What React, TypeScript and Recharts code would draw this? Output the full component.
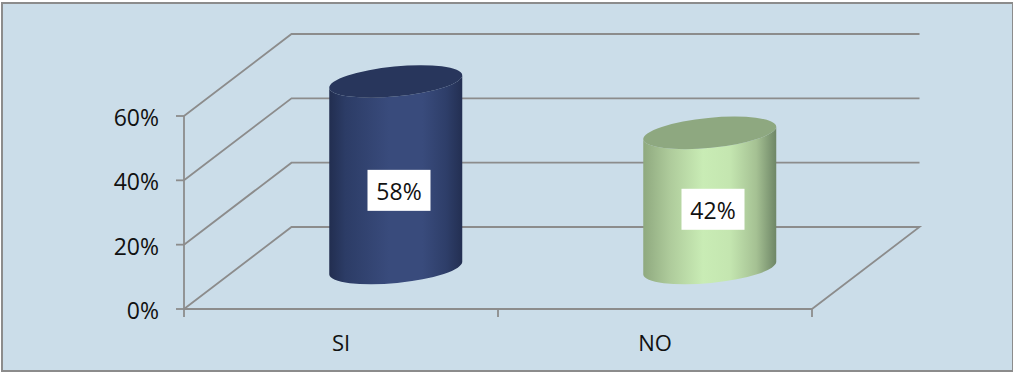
import React from "react";
import { BarChart, Bar, XAxis, YAxis, CartesianGrid, LabelList } from "recharts";

const categories = ["SI", "NO"];
const values = [58, 42];
const yTicks = [0, 20, 40, 60];
const topColors = ["#28365c", "#8ea880"];
const gradients = [
  [["0%", "#222e50"], ["12%", "#2c3c66"], ["45%", "#394b7c"], ["70%", "#394b7c"], ["88%", "#2e3e69"], ["100%", "#232f52"]],
  [["0%", "#8fa97f"], ["20%", "#aecb9b"], ["45%", "#c9ecb5"], ["65%", "#c4e6b0"], ["85%", "#a5c193"], ["100%", "#6e8666"]],
];

const data = categories.map((name, i) => ({ name, value: values[i] }));

const WIDTH = 1014;
const HEIGHT = 374;
const LEFT = 184;
const RIGHT = 812;
const TOP = 116;
const BOTTOM = 309;
const DX = 107.5;
const DY = 82;
const GREY = "#8c8c8c";
const LINE_W = 1.8;
const FONT = "'Open Sans', sans-serif";
const BAND = (RIGHT - LEFT) / categories.length;

function GridLine(props: any) {
  const { x1, y1, x2 } = props;
  const isFloor = Math.abs(y1 - BOTTOM) < 2;
  const pts = `${x1},${y1} ${x1 + DX},${y1 - DY} ${x2 + DX},${y1 - DY}${isFloor ? ` ${x2},${y1}` : ""}`;
  return <polyline points={pts} fill="none" stroke={GREY} strokeWidth={LINE_W} />;
}

function Cylinder(props: any) {
  const { x, y, width, height, index } = props;
  const cx = x + width / 2 + DX / 2 + 0.5;
  const left = cx - width / 2;
  const right = cx + width / 2;
  const topY = y - DY / 2;
  const botY = y + height - DY / 2;
  const tilt = 6.5;
  const rx = Math.hypot(width / 2, tilt);
  const ry = 15;
  const rot = -(Math.atan2(tilt, width / 2) * 180) / Math.PI;
  const id = `cyl-${index}`;
  const body = `M${left},${topY + tilt} L${left},${botY + tilt} A${rx},${ry} ${rot} 0 0 ${right},${botY - tilt} L${right},${topY - tilt} A${rx},${ry} ${rot} 0 1 ${left},${topY + tilt} Z`;
  return (
    <g>
      <defs>
        <linearGradient id={id} x1="0" x2="1" y1="0" y2="0">
          {gradients[index].map(([offset, color]) => (
            <stop key={offset} offset={offset} stopColor={color} />
          ))}
        </linearGradient>
      </defs>
      <path d={body} fill={`url(#${id})`} />
      <ellipse cx={cx} cy={topY} rx={rx} ry={ry} fill={topColors[index]} transform={`rotate(${rot} ${cx} ${topY})`} />
    </g>
  );
}

function BoxLabel(props: any) {
  const { x, y, width, height, value } = props;
  const cx = x + width / 2 + 57.5;
  const cy = y + height - 50 - 0.368 * height;
  return (
    <g>
      <rect x={cx - 31.5} y={cy - 20.5} width={63} height={41} fill="#ffffff" />
      <text x={cx} y={cy + 10} textAnchor="middle" fontFamily={FONT} fontSize={23} fill="#111111">{`${value}%`}</text>
    </g>
  );
}

function CategoryTick(props: any) {
  const { x, y, payload, index } = props;
  const edge = x - BAND / 2;
  return (
    <g>
      <line x1={edge} x2={edge} y1={BOTTOM} y2={BOTTOM + 8} stroke={GREY} strokeWidth={LINE_W} />
      {index === categories.length - 1 && (
        <line x1={edge + BAND} x2={edge + BAND} y1={BOTTOM} y2={BOTTOM + 8} stroke={GREY} strokeWidth={LINE_W} />
      )}
      <text x={x} y={y + 34} textAnchor="middle" fontFamily={FONT} fontSize={22} fill="#111111">{payload.value}</text>
    </g>
  );
}

function ValueTick(props: any) {
  const { x, y, payload } = props;
  return (
    <text x={x} y={y + 10} textAnchor="end" fontFamily={FONT} fontSize={23} fill="#111111">{`${payload.value}%`}</text>
  );
}

export default function App() {
  return (
    <div
      style={{
        position: "absolute",
        left: 0,
        top: 0,
        width: WIDTH,
        height: HEIGHT,
        background: "#ffffff",
      }}
    >
      <div
        style={{
          position: "absolute",
          left: 1,
          top: 2,
          width: 1012,
          height: 370,
          boxSizing: "border-box",
          background: "#cbdde9",
          border: "2px solid #8c8c8c",
          borderRightWidth: 1,
        }}
      />
      <div style={{ position: "absolute", left: 0, top: 0 }}>
        <BarChart
          width={WIDTH}
          height={HEIGHT}
          data={data}
          margin={{ top: TOP, right: WIDTH - RIGHT, bottom: 0, left: 0 }}
          barSize={133}
        >
          <CartesianGrid vertical={false} horizontal={(p: any) => <GridLine key={p.key ?? p.index} {...p} />} />
          <XAxis
            dataKey="name"
            height={HEIGHT - BOTTOM}
            tickLine={false}
            axisLine={{ stroke: GREY, strokeWidth: LINE_W }}
            tick={<CategoryTick />}
            interval={0}
          />
          <YAxis
            width={LEFT}
            domain={[0, 60]}
            ticks={yTicks}
            tickSize={8}
            tickMargin={17}
            tickLine={{ stroke: GREY, strokeWidth: LINE_W }}
            axisLine={{ stroke: GREY, strokeWidth: LINE_W }}
            tick={<ValueTick />}
          />
          <Bar dataKey="value" isAnimationActive={false} shape={<Cylinder />}>
            <LabelList dataKey="value" content={<BoxLabel />} />
          </Bar>
        </BarChart>
      </div>
    </div>
  );
}
